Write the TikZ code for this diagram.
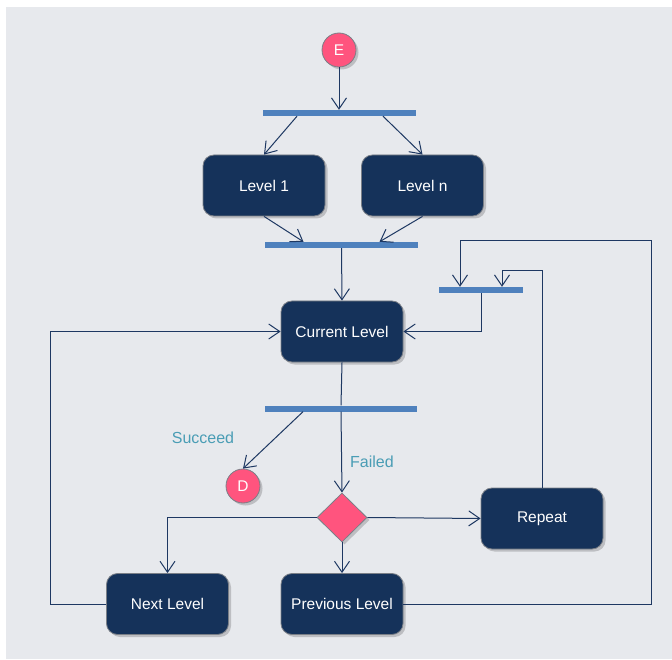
\documentclass[tikz,border=0pt]{standalone}
\usepackage{fontspec}
\setmainfont{Liberation Sans}
\usetikzlibrary{arrows.meta,shapes.geometric,shadows}
\definecolor{panel}{HTML}{E7E9ED}
\definecolor{navy}{HTML}{15325A}
\definecolor{wire}{HTML}{1E3862}
\definecolor{barblue}{HTML}{4F81BD}
\definecolor{rose}{HTML}{FF547E}
\definecolor{guard}{HTML}{4A9DB5}
\definecolor{rim}{HTML}{7A7F87}

\begin{document}
\begin{tikzpicture}[x=1pt,y=-1pt,
  every node/.style={font=\fontsize{15.5}{18}\selectfont},
  softshadow/.style={drop shadow={shadow xshift=2.5pt,shadow yshift=-2.5pt,fill=black,opacity=0.18}},
  act/.style={rectangle,rounded corners=11pt,fill=navy,draw=rim,line width=0.8pt,
    text=white,minimum width=122pt,minimum height=61pt,inner sep=0pt,softshadow},
  syncbar/.style={rectangle,fill=barblue,draw=none,minimum height=6pt,inner sep=0pt},
  terminal/.style={circle,fill=rose,draw=rim,line width=0.8pt,text=white,
    minimum size=34pt,inner sep=0pt,softshadow},
  choice/.style={diamond,fill=rose,draw=rim,line width=0.8pt,
    minimum width=50pt,minimum height=49pt,inner sep=0pt,softshadow},
  guardtext/.style={text=guard,font=\fontsize{16}{19}\selectfont},
  wireline/.style={draw=wire,line width=1pt},
  arr/.style={wireline,-{Straight Barb[length=11pt,width=15pt]}}
]
% canvas and panel
\fill[white] (0,0) rectangle (672,660);
\fill[panel] (6,7) rectangle (672,659);
\useasboundingbox (0,0) rectangle (672,660);

% nodes
\node[terminal] (E) at (339,50) {E};
\node[syncbar,minimum width=153pt] (bar1) at (339,113) {};
\node[act] (L1) at (264,185.5) {Level 1};
\node[act] (Ln) at (422.5,185.5) {Level n};
\node[syncbar,minimum width=153pt] (bar2) at (341.5,245) {};
\node[act] (cur) at (342,331.5) {Current Level};
\node[syncbar,minimum width=84pt] (bar3) at (481,290) {};
\node[syncbar,minimum width=152pt] (bar4) at (341,408.5) {};
\node[terminal] (D) at (243,486) {D};
\node[choice] (dia) at (342,517.5) {};
\node[act] (rep) at (542,518.5) {Repeat};
\node[act] (next) at (167.5,604) {Next Level};
\node[act] (prev) at (342,604) {Previous Level};

\node[guardtext] (succ) at (203,438) {Succeed};
\node[guardtext] (fail) at (372,462) {Failed};

% loop corner points
\coordinate (lft) at (50,0);
\coordinate (rtop) at (651,241);
\coordinate (rin) at (0,271);

% connectors
\draw[arr] (E) -- (E |- bar1.north);
\draw[arr] ([xshift=-42pt]bar1.south) -- (L1.north);
\draw[arr] ([xshift=44pt]bar1.south) -- (Ln.north);
\draw[arr] (L1.south) -- ([xshift=-38pt]bar2.north);
\draw[arr] (Ln.south) -- ([xshift=38pt]bar2.north);
\draw[arr] (bar2.south) -- (cur.north);
\draw[wireline] (cur.south) -- (bar4.north);
\draw[arr] ([xshift=-38pt]bar4.south) -- (D.north);
\draw[arr] (bar4.south) -- (dia.north);
\draw[arr] (dia.east) -- (rep.west);
\draw[arr] (dia.west) -| (next.north);
\draw[arr] (dia.south) -- (prev.north);
\draw[arr] (next.west) -- (next.west -| lft) |- (cur.west);
\draw[arr] (prev.east) -| (rtop) -| ([xshift=-21pt]bar3.north);
\draw[arr] (rep.north) -- (rep.north |- rin) -| ([xshift=21pt]bar3.north);
\draw[arr] (bar3.south) |- (cur.east);
\end{tikzpicture}
\end{document}
